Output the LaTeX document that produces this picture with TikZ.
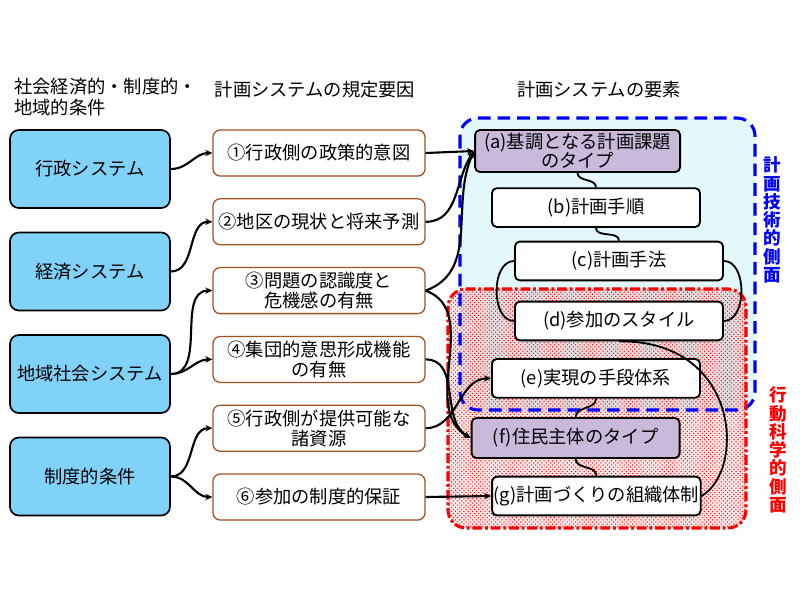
\documentclass[tikz,border=0pt]{standalone}
\usepackage{fontspec}
\setmainfont{Noto Sans CJK JP}
\usetikzlibrary{arrows.meta,patterns}
\definecolor{sysblue}{RGB}{128,210,248}
\definecolor{facbrown}{RGB}{165,80,35}
\definecolor{lavender}{RGB}{200,186,216}
\definecolor{paleCyan}{RGB}{226,248,250}

\tikzset{
  sysbox/.style={draw, line width=1.2pt, rounded corners=0.22cm, fill=sysblue, minimum width=4cm, minimum height=1.95cm, node distance=2.5625cm},
  factor/.style={draw=facbrown, line width=0.9pt, rounded corners=0.18cm, fill=white, minimum width=5.3cm, minimum height=1.15cm, align=center, node distance=1.72cm},
  elem/.style={draw, line width=1.3pt, rounded corners=0.12cm, fill=white, minimum width=5.2cm, minimum height=0.97cm, align=center, inner sep=1pt},
  conn/.style={line width=1.5pt, -{Stealth[length=5pt,width=4.5pt]}},
  link/.style={line width=1.3pt},
}

\begin{document}
\begin{tikzpicture}[font=\fontsize{13}{15}\selectfont]
			\useasboundingbox (0,0) rectangle (20,-15);

			% regions
			\fill[paleCyan, rounded corners=0.45cm] (11.5,-2.95) rectangle (18.875,-10.25);
			\fill[red, opacity=0.1, rounded corners=0.45cm] (11.2,-7.225) rectangle (18.65,-13.2);
			\fill[pattern=crosshatch dots, pattern color=red, rounded corners=0.45cm] (11.2,-7.225) rectangle (18.65,-13.2);
			\draw[blue, line width=2.2pt, dash pattern=on 9pt off 5pt, rounded corners=0.45cm] (11.5,-2.95) rectangle (18.875,-10.25);
			\draw[red, line width=2.2pt, dash pattern=on 7pt off 2pt on 2pt off 2pt, rounded corners=0.45cm] (11.2,-7.225) rectangle (18.65,-13.2);

			\node[anchor=west, align=left, inner sep=0pt, font=\fontsize{13}{14.5}\selectfont] (h1) at (0.35,-2.425) {社会経済的・制度的・\\地域的条件};
			\node (h2) at (7.875,-2.25) {計画システムの規定要因};
			\node (h3) at (14.975,-2.25) {計画システムの要素};

			\node[text=blue, font=\fontsize{12.5}{13}\selectfont\bfseries, align=center, inner sep=0pt] (tech) at (19.3,-5.5) {計\\画\\技\\術\\的\\側\\面};
			\node[text=red, font=\fontsize{12.5}{13}\selectfont\bfseries, align=center, inner sep=0pt] (behav) at (19.45,-11.25) {行\\動\\科\\学\\的\\側\\面};

			\node[sysbox] (L1) at (2.25,-4.225) {行政システム};
			\node[sysbox] (L2)[below of = L1] {経済システム};
			\node[sysbox] (L3)[below of = L2] {地域社会システム};
			\node[sysbox] (L4)[below of = L3] {制度的条件};

			\node[factor] (1) at (7.975,-3.825) {①行政側の政策的意図};
			\node[factor] (2)[below of = 1] {②地区の現状と将来予測};
			\node[factor, font=\fontsize{13}{14}\selectfont] (3)[below of = 2] {③問題の認識度と\\危機感の有無};
			\node[factor, font=\fontsize{13}{14}\selectfont] (4)[below of = 3] {④集団的意思形成機能\\の有無};
			\node[factor, font=\fontsize{13}{14}\selectfont] (5)[below of = 4] {⑤行政側が提供可能な\\諸資源};
			\node[factor] (6)[below of = 5] {⑥参加の制度的保証};

			\node[elem, fill=lavender, minimum width=5.125cm, minimum height=1.05cm, font=\fontsize{13}{13.5}\selectfont] (a) at (14.44,-3.775) {(a)基調となる計画課題\\のタイプ};
			\node[elem] (b) at (14.9,-5.19) {(b)計画手順};
			\node[elem] (c) at (15.475,-6.525) {(c)計画手法};
			\node[elem] (d) at (15.475,-8.025) {(d)参加のスタイル};
			\node[elem] (e) at (14.9,-9.46) {(e)実現の手段体系};
			\node[elem, fill=lavender, minimum height=1.0cm] (f) at (14.39,-10.95) {(f)住民主体のタイプ};
			\node[elem] (g) at (14.91,-12.4) {(g)計画づくりの組織体制};

			\path[conn]
				(L1) edge[out=0, in=180] (1)
				(L2) edge[out=0, in=180] (2)
				(L3) edge[out=0, in=180] (3)
				(L3) edge[out=0, in=180] (4)
				(L4) edge[out=0, in=180] (5)
				(L4) edge[out=0, in=180] (6)

				(1.east) edge (a.west)
				(2.east) edge[out=0, in=235] (a.west)
				(3.east) edge[out=20, in=245] (a.west)
				(3.east) edge[out=-20, in=150] (f.west)
				(4.east) edge[out=0, in=150] (f.west)
				(5.east) edge[out=0, in=180] (e.west)
				(6.east) edge (g.west)
			;

			\path[link]
				(a.south) edge[out=-90, in=90] (b.north)
				(b.south) edge[out=-90, in=90] (c.north)
				(c.west) edge[out=180, in=180] (d.west)
				(c.east) edge[out=0, in=0] (d.east)
				(e.south) edge[out=-90, in=90] (f.north)
				(f.south) edge[out=-90, in=90] (g.north)
			;
			\draw[link] (d.south) .. controls (18.5,-8.5) and (18.65,-11.75) .. (g.east);
		\end{tikzpicture}
\end{document}
